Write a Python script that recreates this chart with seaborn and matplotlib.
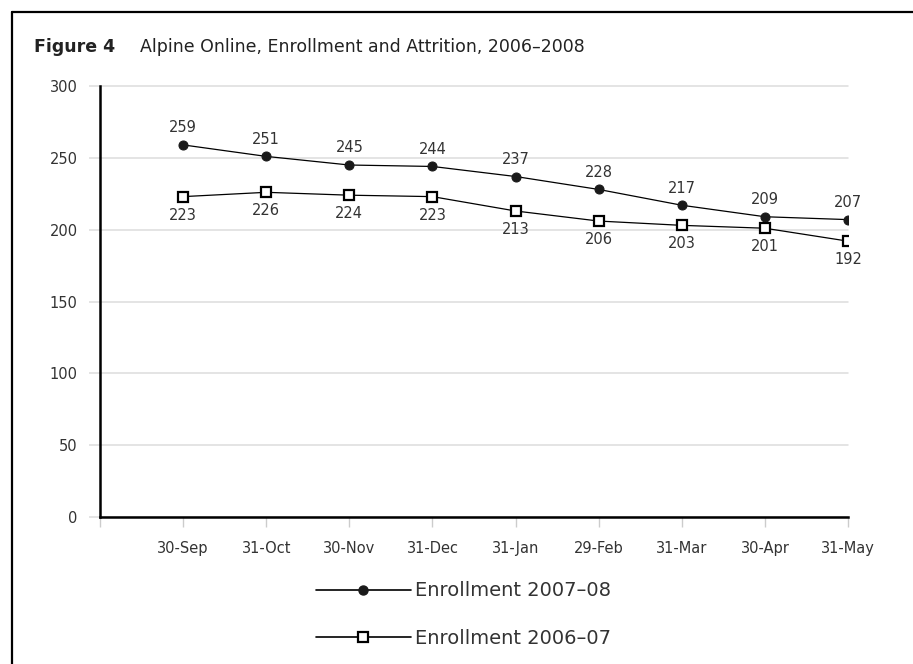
import matplotlib
matplotlib.use("Agg")
import matplotlib.pyplot as plt
import seaborn as sns
import pandas as pd
from matplotlib.lines import Line2D

months = ["30-Sep", "31-Oct", "30-Nov", "31-Dec", "31-Jan", "29-Feb", "31-Mar", "30-Apr", "31-May"]
enroll_0708 = [259, 251, 245, 244, 237, 228, 217, 209, 207]
enroll_0607 = [223, 226, 224, 223, 213, 206, 203, 201, 192]
series_names = ["Enrollment 2007\u201308", "Enrollment 2006\u201307"]
y_ticks = [0, 50, 100, 150, 200, 250, 300]

sns.set_theme(style="white")
plt.rcParams["font.family"] = ["DejaVu Sans"]

pos = list(range(1, len(months) + 1))
df = pd.DataFrame({
    "pos": pos * 2,
    "value": enroll_0708 + enroll_0607,
    "series": [series_names[0]] * len(months) + [series_names[1]] * len(months),
})

fig = plt.figure(figsize=(9.13, 6.64), dpi=100)
ax = fig.add_axes([100 / 913, (664 - 517) / 664, (848 - 100) / 913, (517 - 86) / 664])

sns.lineplot(data=df[df.series == series_names[0]], x="pos", y="value", ax=ax,
             color="black", linewidth=0.9, marker="o", markersize=6.5,
             markerfacecolor="#1a1a1a", markeredgecolor="#1a1a1a", legend=False, zorder=3)
sns.lineplot(data=df[df.series == series_names[1]], x="pos", y="value", ax=ax,
             color="black", linewidth=0.9, marker="s", markersize=7,
             markerfacecolor="white", markeredgecolor="black", markeredgewidth=1.6,
             legend=False, zorder=4)

txtc = "#333333"
for x, v in zip(pos, enroll_0708):
    ax.annotate(str(v), (x, v), xytext=(0, 7), textcoords="offset points",
                ha="center", va="bottom", fontsize=10.5, color=txtc)
for x, v in zip(pos, enroll_0607):
    ax.annotate(str(v), (x, v), xytext=(0, -8), textcoords="offset points",
                ha="center", va="top", fontsize=10.5, color=txtc)

ax.set_xlim(0, len(months))
ax.set_ylim(0, 300)
ax.set_xticks([0] + pos)
ax.set_xticklabels([""] + months, fontsize=10.5, color=txtc)
ax.set_yticks(y_ticks)
ax.set_yticklabels([str(t) for t in y_ticks], fontsize=10.5, color=txtc)
ax.tick_params(axis="x", length=7, width=1, color="#cccccc", pad=10, bottom=True)
ax.tick_params(axis="y", length=8, width=1.1, color="#dddddd", pad=8, left=True)
ax.yaxis.grid(True, color="#dddddd", linewidth=1.1)
ax.xaxis.grid(False)
ax.set_axisbelow(True)
for gl in ax.get_ygridlines():
    gl.set_clip_on(False)
for s in ["top", "right"]:
    ax.spines[s].set_visible(False)
for s in ["left", "bottom"]:
    ax.spines[s].set_color("black")
    ax.spines[s].set_linewidth(1.8)
    ax.spines[s].set_zorder(2)
ax.set_xlabel("")
ax.set_ylabel("")

handles = [
    Line2D([], [], color="black", linewidth=1.2, marker="o", markersize=6.5,
           markerfacecolor="#1a1a1a", markeredgecolor="#1a1a1a"),
    Line2D([], [], color="black", linewidth=1.2, marker="s", markersize=7,
           markerfacecolor="white", markeredgecolor="black", markeredgewidth=1.6),
]
fig.legend(handles, series_names, loc="upper left", bbox_to_anchor=(298 / 913, 1 - 564 / 664),
           frameon=False, fontsize=14, handlelength=4.9, labelspacing=1.45,
           handletextpad=0.2, labelcolor=txtc)

fig.text(34 / 913, 1 - 47 / 664, "Figure 4", fontsize=12.5, fontweight="bold",
         color="#222222", va="center", ha="left")
fig.text(140 / 913, 1 - 47 / 664, "Alpine Online, Enrollment and Attrition, 2006\u20132008",
         fontsize=12.5, color="#222222", va="center", ha="left")

fig.add_artist(Line2D([12 / 913, 1.0], [1 - 12 / 664, 1 - 12 / 664], transform=fig.transFigure,
                      color="black", linewidth=1.6))
fig.add_artist(Line2D([12 / 913, 12 / 913], [0, 1 - 12 / 664], transform=fig.transFigure,
                      color="black", linewidth=1.6))

fig.savefig("out.png", dpi=100, facecolor="white")
